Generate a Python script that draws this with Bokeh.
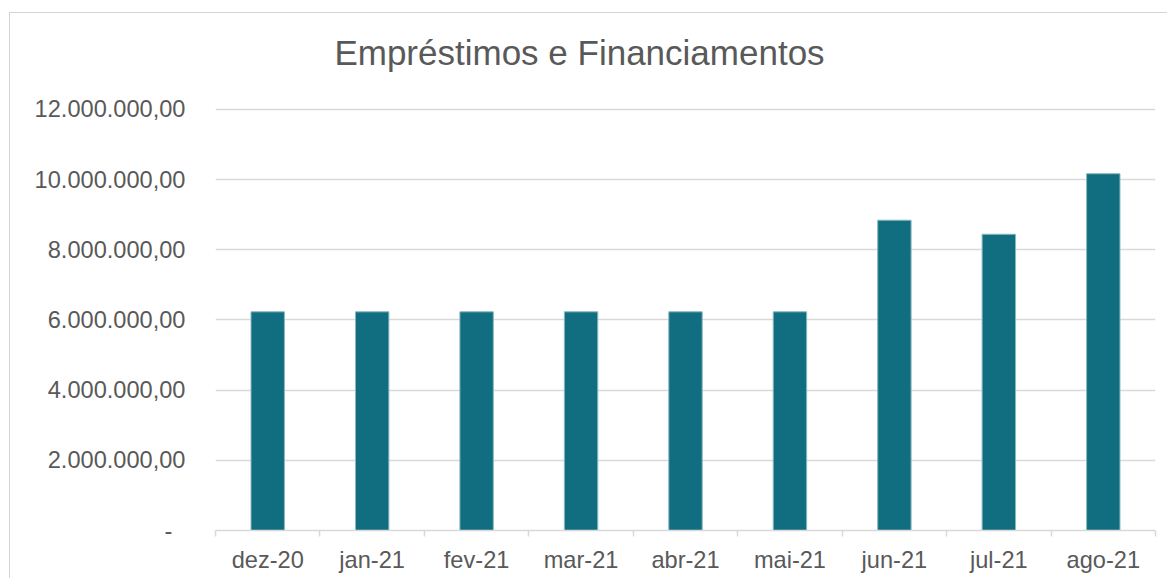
from bokeh.plotting import figure
from bokeh.models import Range1d, FixedTicker, Label
from bokeh.embed import file_html
from bokeh.resources import INLINE

categories = ["dez-20", "jan-21", "fev-21", "mar-21", "abr-21", "mai-21", "jun-21", "jul-21", "ago-21"]
values = [6230000, 6230000, 6230000, 6230000, 6230000, 6230000, 8840000, 8440000, 10165000]
y_ticks = [0, 2000000, 4000000, 6000000, 8000000, 10000000, 12000000]
title_text = "Empréstimos e Financiamentos"

TXT = "#595959"
GRID = "#d9d9d9"
FONT = "Liberation Sans"

# layout (pixels)
W, H = 1158, 566
BL, BR, BT, BB = 205, 13, 10, 49
FRAME_H = H - BT - BB
AXIS_SPAN_PX = 421.2  # pixel height of the 0..max tick span
Y_END = max(y_ticks) * FRAME_H / AXIS_SPAN_PX


def br_fmt(v):
    if v == 0:
        return "-\u00a0\u00a0"
    s = f"{v:,.2f}"
    return s.replace(",", "X").replace(".", ",").replace("X", ".")


n = len(categories)
centers = [i + 0.5 for i in range(n)]
bounds = [float(i) for i in range(n + 1)]

p = figure(width=W, height=H, output_backend="svg", toolbar_location=None,
           x_range=Range1d(0, n), y_range=Range1d(0, Y_END),
           min_border_left=BL, min_border_right=BR, min_border_top=BT, min_border_bottom=BB)
p.styles = {"border-left": "1px solid #d4d4d4", "border-top": "1px solid #d4d4d4",
            "margin-left": "9px", "margin-top": "12px"}

p.add_layout(Label(x=364, y=478, x_units="screen", y_units="screen",
                   text=title_text, text_font=FONT, text_font_size="35px",
                   text_color=TXT, text_align="center", text_baseline="alphabetic"))

p.vbar(x=centers, top=values, width=0.32, bottom=0, fill_color="#116E80",
       line_color="#8ab8c2", line_width=1)

p.outline_line_color = None
p.background_fill_color = "white"
p.border_fill_color = "white"

p.xgrid.grid_line_color = None
p.ygrid.grid_line_color = GRID
p.ygrid.grid_line_width = 1.5

yax = p.yaxis[0]
yax.ticker = FixedTicker(ticks=y_ticks)
yax.major_label_overrides = {t: br_fmt(t) for t in y_ticks}
yax.axis_line_color = None
yax.major_tick_line_color = None
yax.minor_tick_line_color = None
yax.major_tick_out = 0
yax.major_label_standoff = 30
yax.major_label_text_font = FONT
yax.major_label_text_font_size = "23.6px"
yax.major_label_text_color = TXT

xax = p.xaxis[0]
xax.ticker = FixedTicker(ticks=centers, minor_ticks=bounds)
xax.major_label_overrides = {c: lab for c, lab in zip(centers, categories)}
xax.axis_line_color = GRID
xax.axis_line_width = 1.5
xax.major_tick_line_color = None
xax.major_tick_out = 0
xax.major_tick_in = 0
xax.minor_tick_line_color = GRID
xax.minor_tick_line_width = 1.5
xax.minor_tick_out = 6
xax.minor_tick_in = 0
xax.major_label_standoff = 10
xax.major_label_text_font = FONT
xax.major_label_text_font_size = "23.6px"
xax.major_label_text_color = TXT

open("out.html", "w").write(file_html(p, INLINE))
